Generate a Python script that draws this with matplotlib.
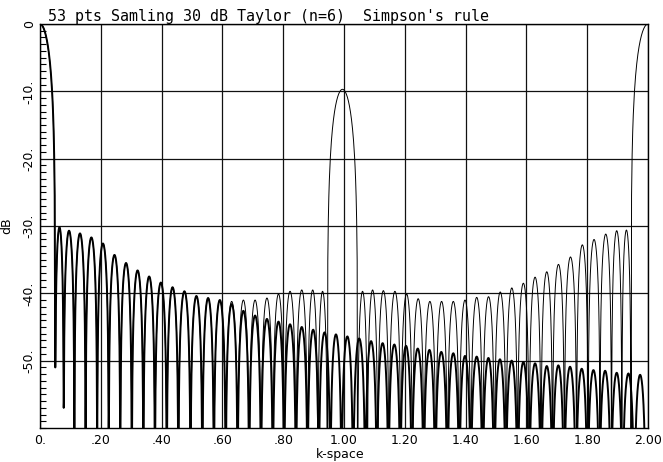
import numpy as np
import matplotlib
matplotlib.use("Agg")
import matplotlib.pyplot as plt
from matplotlib.ticker import MultipleLocator, FixedLocator

# lobe boundaries (nulls, k-space) and lobe peak levels (dB)
# both curves share the lobes up to k ~ 0.6
near_nulls = [-0.050, 0.050, 0.078, 0.113, 0.150, 0.188, 0.226, 0.264, 0.302,
              0.340, 0.378, 0.417, 0.455, 0.495, 0.534, 0.572, 0.611]
near_db = [0.0, -30.2, -30.7, -31.1, -31.7, -32.6, -34.3, -35.5, -36.6,
           -37.5, -38.4, -39.1, -39.7, -40.4, -40.7, -41.0]

# ideal (heavy) curve beyond k ~ 0.6
thick_far_nulls = [0.650, 0.688, 0.727, 0.766, 0.803, 0.842, 0.880, 0.917, 0.955,
                   0.992, 1.030, 1.070, 1.108, 1.146, 1.185, 1.223, 1.262, 1.300,
                   1.340, 1.379, 1.417, 1.456, 1.494, 1.532, 1.571, 1.609, 1.648,
                   1.686, 1.724, 1.763, 1.801, 1.840, 1.878, 1.916, 1.955, 1.993]
thick_far_db = [-41.6, -42.6, -43.3, -43.8, -44.2, -44.6, -45.0, -45.4, -45.8,
                -46.1, -46.4, -46.7, -47.1, -47.4, -47.6, -47.8, -48.2, -48.4,
                -48.7, -48.9, -49.3, -49.4, -49.6, -49.8, -50.0, -50.2, -50.4,
                -50.8, -50.7, -50.9, -51.2, -51.4, -51.5, -51.8, -51.9, -52.1]

# Simpson's rule (thin) curve beyond k ~ 0.6, grating lobes at 1.0 and 2.0
thin_far_nulls = [0.650, 0.688, 0.727, 0.766, 0.803, 0.842, 0.880, 0.914, 0.945,
                  1.045, 1.077, 1.111, 1.148, 1.187, 1.225, 1.263, 1.302, 1.340,
                  1.379, 1.417, 1.456, 1.495, 1.533, 1.571, 1.609, 1.648, 1.686,
                  1.725, 1.765, 1.803, 1.842, 1.880, 1.914, 1.944, 2.056]
thin_far_db = [-41.2, -41.0, -41.0, -40.7, -40.1, -39.7, -39.5, -39.5, -39.7,
               -9.7, -39.7, -39.5, -39.6, -39.7, -40.1, -40.8, -41.2, -41.2,
               -41.2, -41.0, -40.6, -40.5, -39.8, -39.2, -38.5, -37.6, -36.8,
               -35.7, -34.6, -32.8, -32.0, -31.2, -30.7, -30.6, 0.0]

# nulls that do not reach the bottom of the plot
shallow_null_k = [0.050, 0.078]
shallow_null_db = [-51.0, -57.0]

x_ticks = [0.0, 0.2, 0.4, 0.6, 0.8, 1.0, 1.2, 1.4, 1.6, 1.8, 2.0]
x_labels = ['0.', '.20', '.40', '.60', '.80', '1.00', '1.20', '1.40', '1.60', '1.80', '2.00']
y_ticks = [-50, -40, -30, -20, -10, 0]
y_labels = ['-50.', '-40.', '-30.', '-20.', '-10.', '0']


def null_floor(k):
    for sk, sd in zip(shallow_null_k, shallow_null_db):
        if abs(k - sk) < 1e-6:
            return sd
    return -90.0


def lobes(nulls, peaks, n=60):
    xs, ys = [], []
    for a, b, p in zip(nulls[:-1], nulls[1:], peaks):
        u = np.linspace(-1, 1, n)
        env = np.clip(np.cos(np.pi * u / 2), 1e-5, None)
        y = p + 20 * np.log10(env)
        y = np.where(u < 0, np.maximum(y, null_floor(a)), np.maximum(y, null_floor(b)))
        xs.append(a + (u + 1) / 2 * (b - a))
        ys.append(y)
    return np.concatenate(xs), np.concatenate(ys)


fig = plt.figure(figsize=(6.63, 4.62), dpi=100)
ax = fig.add_axes([40 / 663, 34 / 462, 608 / 663, 404 / 462])

kx, ky = lobes(near_nulls + thick_far_nulls, near_db + thick_far_db)
ax.plot(kx, ky, color='black', lw=1.4, solid_joinstyle='round')
kx, ky = lobes(near_nulls + thin_far_nulls, near_db + thin_far_db)
ax.plot(kx, ky, color='black', lw=0.7)

ax.set_xlim(0, 2.0)
ax.set_ylim(-60, 0)
ax.xaxis.set_major_locator(FixedLocator(x_ticks))
ax.set_xticklabels(x_labels)
ax.yaxis.set_major_locator(FixedLocator(y_ticks))
ax.set_yticklabels(y_labels, rotation=90, va='center')
ax.yaxis.set_minor_locator(MultipleLocator(1))
ax.tick_params(which='major', length=0, labelsize=9, pad=4)
ax.tick_params(axis='y', which='major', pad=3)
ax.tick_params(axis='y', which='minor', direction='in', length=4.5, width=0.8, left=True)
ax.tick_params(axis='x', which='minor', bottom=False)
ax.grid(True, which='major', color='#111111', lw=0.9)
for s in ax.spines.values():
    s.set_linewidth(1.0)

ax.set_ylabel('dB', fontsize=9)
ax.yaxis.set_label_coords(-0.044, 0.5)
ax.set_xlabel('k-space', fontsize=9)
ax.xaxis.set_label_coords(0.493, -0.05)

fig.text(48 / 663, 1 - 16 / 462, "53 pts Samling 30 dB Taylor (n=6)  Simpson's rule",
         family='DejaVu Sans Mono', fontsize=10.8, ha='left', va='center')

fig.savefig('out.png', dpi=100)
